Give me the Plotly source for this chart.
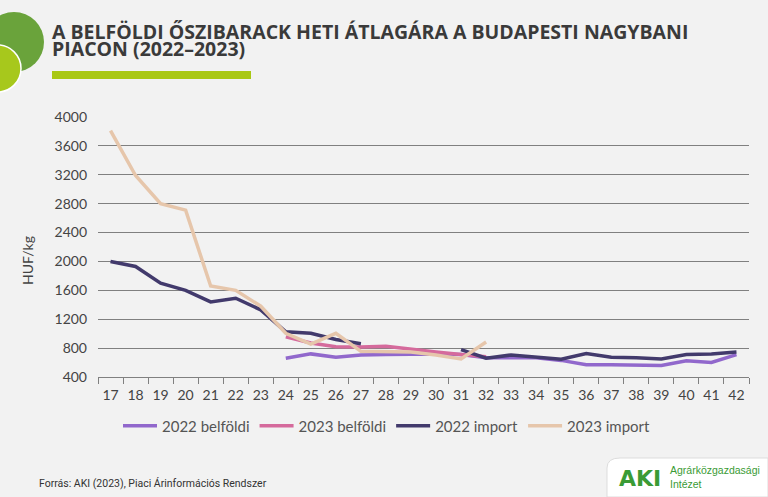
import plotly.graph_objects as go

weeks = [str(w) for w in range(17, 43)]

belfoldi_2022 = [None, None, None, None, None, None, None,
                 660, 720, 675, 705, 710, 718, 720, 710, 665, 665, 665, 630,
                 570, 570, 558, 558, 625, 602, 710]
belfoldi_2023 = [None, None, None, None, None, None, None,
                 955, 870, 820, 815, 825, 782, 745, 712, 680,
                 None, None, None, None, None, None, None, None, None, None]
import_2022 = [2000, 1930, 1700, 1600, 1440, 1490, 1330, 1025, 1005, 920, 860,
               None, None, None, 780, 660, 705, 675, 645, 725, 675, 668, 650,
               712, 720, 745]
import_2023 = [3810, 3190, 2800, 2710, 1660, 1600, 1380, 1005, 855, 1005, 755,
               755, 745, 705, 650, 885,
               None, None, None, None, None, None, None, None, None, None]

series_names = ["2022 belföldi", "2023 belföldi", "2022 import", "2023 import"]
series_colors = ["#9168cc", "#d56a9c", "#423a6c", "#e6c6ab"]
series_values = [belfoldi_2022, belfoldi_2023, import_2022, import_2023]

y_ticks = [400, 800, 1200, 1600, 2000, 2400, 2800, 3200, 3600, 4000]

title_lines = ["A BELFÖLDI ŐSZIBARACK HETI ÁTLAGÁRA A BUDAPESTI NAGYBANI",
               "PIACON (2022–2023)"]

W, H = 768, 497
L, R, T, B = 98, 749, 117, 377


def px(x):
    return (x - L) / (R - L)


def py(y):
    return (B - y) / (B - T)


fig = go.Figure()
for name, color, vals in zip(series_names, series_colors, series_values):
    fig.add_trace(go.Scatter(
        x=weeks, y=vals, name=name, mode="lines",
        line=dict(color=color, width=3.5), connectgaps=False,
    ))

font_family = "Lato, 'Open Sans', sans-serif"

fig.update_layout(
    width=W, height=H,
    margin=dict(l=L, r=W - R, t=T, b=H - B, autoexpand=False),
    paper_bgcolor="#f2f2f2",
    plot_bgcolor="#f2f2f2",
    font=dict(family=font_family, color="#444444", size=14),
    showlegend=True,
    legend=dict(orientation="h", x=px(387), xanchor="center", y=py(426), yanchor="middle",
                font=dict(size=15, color="#555555"), bgcolor="rgba(0,0,0,0)",
                itemwidth=34, tracegroupgap=0),
    xaxis=dict(
        type="category", tickson="boundaries", ticks="outside", ticklen=6,
        tickcolor="#808080", showline=True, linecolor="#808080", linewidth=1.2,
        showgrid=False, tickfont=dict(size=14, color="#444444"), tickangle=0,
        range=[-0.5, len(weeks) - 0.5], automargin=False, ticklabelstandoff=5,
    ),
    yaxis=dict(
        range=[400, 4000], tickvals=y_ticks, ticktext=[str(v) for v in y_ticks],
        showgrid=True, gridcolor="#808080", gridwidth=1.3, zeroline=False,
        showline=False, ticks="", tickfont=dict(size=14, color="#444444"),
        automargin=False, ticklabelstandoff=10,
    ),
)

shapes = [
    # decorative circles
    dict(type="circle", xref="paper", yref="paper",
         x0=px(-16), x1=px(44), y0=py(12), y1=py(72),
         fillcolor="#6aa33b", line=dict(width=0), layer="above"),
    dict(type="circle", xref="paper", yref="paper",
         x0=px(-26), x1=px(21), y0=py(45), y1=py(92),
         fillcolor="#a7c81c", line=dict(width=1.5, color="#ffffff"), layer="above"),
    # title underline bar
    dict(type="rect", xref="paper", yref="paper",
         x0=px(52), x1=px(251), y0=py(71), y1=py(79),
         fillcolor="#a9c813", line=dict(width=0), layer="above"),
    # logo box
    dict(type="path", xref="paper", yref="paper",
         path=(f"M {px(607)},{py(497)} L {px(607)},{py(468)} "
               f"Q {px(607)},{py(458)} {px(620)},{py(458)} "
               f"L {px(768)},{py(458)} L {px(768)},{py(497)} Z"),
         fillcolor="#ffffff", line=dict(width=1, color="#dddddd"), layer="above"),
]

title_font = dict(family="'Open Sans', sans-serif", size=19.5, color="#3a3a3a", weight=700)

annotations = [
    dict(text=title_lines[0], xref="paper", yref="paper", x=px(50), y=py(31),
         xanchor="left", yanchor="middle", showarrow=False, font=title_font),
    dict(text=title_lines[1], xref="paper", yref="paper", x=px(50), y=py(48),
         xanchor="left", yanchor="middle", showarrow=False, font=title_font),
    dict(text="HUF/kg", textangle=-90,
         xref="paper", yref="paper", x=px(27), y=py(261), xanchor="center", yanchor="middle",
         showarrow=False, font=dict(size=14, color="#444444")),
    dict(text="Forrás: AKI (2023), Piaci Árinformációs Rendszer",
         xref="paper", yref="paper", x=px(37), y=py(484), xanchor="left", yanchor="middle",
         showarrow=False,
         font=dict(family="'Roboto', sans-serif", size=10.5, color="#333333")),
    dict(text="<b>AKI</b>",
         xref="paper", yref="paper", x=px(617), y=py(478), xanchor="left", yanchor="middle",
         showarrow=False,
         font=dict(family="'DejaVu Sans', sans-serif", size=22, color="#3a9b35")),
    dict(text="Agrárközgazdasági<br>Intézet",
         xref="paper", yref="paper", x=px(668), y=py(477), xanchor="left", yanchor="middle",
         align="left", showarrow=False,
         font=dict(family="'Liberation Sans', sans-serif", size=10.5, color="#3a9b35")),
]

fig.update_layout(shapes=shapes, annotations=annotations)

fig.write_html("out.html", config={"displayModeBar": False},
               post_script="document.body.style.margin='0px';document.body.style.overflow='hidden';")
